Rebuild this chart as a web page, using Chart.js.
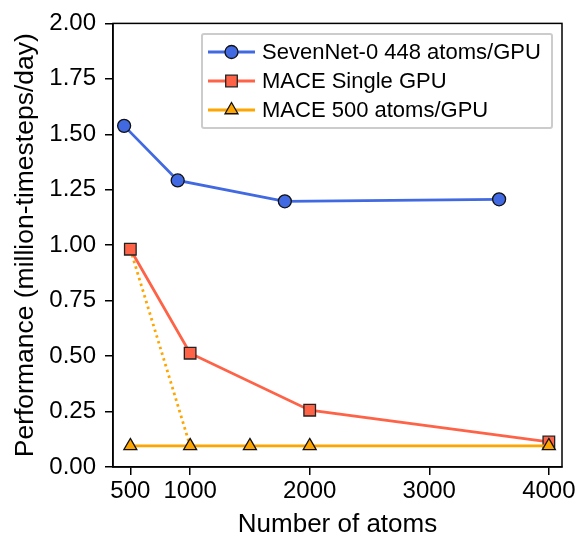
<!DOCTYPE html>
<html>
<head>
<meta charset="utf-8">
<script src="https://cdn.jsdelivr.net/npm/chart.js@4"></script>
<style>
  html, body { margin: 0; padding: 0; background: #fff; }
  #wrap { width: 582px; height: 538px; }
</style>
</head>
<body>
<div id="wrap"><canvas id="chart" width="582" height="538"></canvas></div>
<script>
// data
const sevenNetAtoms = [448, 896, 1792, 3584];
const sevenNetPerf = [1.538, 1.292, 1.198, 1.207];

const maceSingleAtoms = [500, 1000, 2000, 4000];
const maceSinglePerf = [0.982, 0.513, 0.256, 0.113];

const mace500Atoms = [500, 1000, 1500, 2000, 4000];
const mace500Perf = [0.095, 0.095, 0.095, 0.095, 0.095];

// dotted link between single-GPU start and the 1000-atom point
const linkAtoms = [500, 1000];
const linkPerf = [0.982, 0.095];

const xTicks = [500, 1000, 2000, 3000, 4000];
const yTicks = [0, 0.25, 0.5, 0.75, 1, 1.25, 1.5, 1.75, 2];

const seriesLabels = ["SevenNet-0 448 atoms/GPU", "MACE Single GPU", "MACE 500 atoms/GPU"];

const FONT = "'Liberation Sans', Arial, sans-serif";
const toPts = (xs, ys) => xs.map((x, i) => ({ x: x, y: ys[i] }));

// box around the plot + legend drawn inside the axes
const framePlugin = {
  id: 'frame',
  afterDatasetsDraw(chart) {
    const { ctx, chartArea: a } = chart;
    ctx.save();
    ctx.strokeStyle = '#000';
    ctx.lineWidth = 1.5;
    ctx.strokeRect(a.left, a.top, a.right - a.left, a.bottom - a.top);
    ctx.restore();
  },
  afterDraw(chart) {
    const { ctx } = chart;
    const box = { x: 202, y: 34, w: 350, h: 94 };
    ctx.save();
    ctx.fillStyle = 'rgba(255,255,255,0.85)';
    ctx.strokeStyle = '#cccccc';
    ctx.lineWidth = 2;
    ctx.beginPath();
    ctx.roundRect(box.x, box.y, box.w, box.h, 2);
    ctx.fill();
    ctx.stroke();

    ctx.font = '22px ' + FONT;
    ctx.textBaseline = 'middle';
    const rows = [52, 81, 110];
    seriesLabels.forEach((label, i) => {
      const ds = chart.data.datasets[i];
      const y = rows[i];
      ctx.strokeStyle = ds.borderColor;
      ctx.lineWidth = ds.borderWidth;
      ctx.setLineDash([]);
      ctx.beginPath();
      ctx.moveTo(208, y);
      ctx.lineTo(255, y);
      ctx.stroke();
      ctx.fillStyle = ds.pointBackgroundColor;
      ctx.strokeStyle = ds.pointBorderColor;
      ctx.lineWidth = ds.pointBorderWidth;
      Chart.helpers.drawPoint(ctx, {
        pointStyle: ds.pointStyle, radius: ds.pointRadius, rotation: 0, borderWidth: ds.pointBorderWidth
      }, 231.5, y);
      ctx.fillStyle = '#000';
      ctx.fillText(label, 262, y + 1);
    });
    ctx.restore();
  }
};

new Chart(document.getElementById('chart'), {
  type: 'line',
  data: {
    datasets: [
      {
        label: seriesLabels[0],
        data: toPts(sevenNetAtoms, sevenNetPerf),
        borderColor: '#4169e1',
        borderWidth: 2.8,
        pointStyle: 'circle',
        pointRadius: 6.5,
        pointBackgroundColor: '#4169e1',
        pointBorderColor: '#111',
        pointBorderWidth: 1.3,
        order: 1
      },
      {
        label: seriesLabels[1],
        data: toPts(maceSingleAtoms, maceSinglePerf),
        borderColor: '#ff6347',
        borderWidth: 2.8,
        pointStyle: 'rect',
        pointRadius: 8.2,
        pointBackgroundColor: '#ff6347',
        pointBorderColor: '#222',
        pointBorderWidth: 1.3,
        order: 3
      },
      {
        label: seriesLabels[2],
        data: toPts(mace500Atoms, mace500Perf),
        borderColor: '#ffa500',
        borderWidth: 2.8,
        pointStyle: 'triangle',
        pointRadius: 7.5,
        pointBackgroundColor: '#ffa500',
        pointBorderColor: '#111',
        pointBorderWidth: 1.3,
        order: 2
      },
      {
        label: 'link',
        data: toPts(linkAtoms, linkPerf),
        borderColor: '#ffa500',
        borderWidth: 2.8,
        borderDash: [2.5, 3.5],
        pointRadius: 0,
        order: 4
      }
    ]
  },
  options: {
    responsive: false,
    animation: false,
    layout: { padding: { top: 23, right: 20, left: 0, bottom: 0 } },
    plugins: {
      legend: { display: false },
      tooltip: { enabled: false }
    },
    scales: {
      x: {
        type: 'linear',
        min: 355,
        max: 4110,
        afterFit: (s) => { s.height = 71; },
        afterBuildTicks: (s) => { s.ticks = xTicks.map(v => ({ value: v })); },
        grid: { display: true, drawOnChartArea: false, drawTicks: true, tickLength: 8, color: '#000', lineWidth: 1.5 },
        border: { display: true, color: '#000', width: 1.5 },
        ticks: { color: '#000', font: { family: FONT, size: 24 }, padding: 2, maxRotation: 0, callback: (v) => String(v) },
        title: { display: true, text: 'Number of atoms', color: '#000', font: { family: FONT, size: 26, lineHeight: 1 }, padding: { top: 0, bottom: 0 } }
      },
      y: {
        min: 0,
        max: 2,
        afterFit: (s) => { s.width = 113; },
        afterBuildTicks: (s) => { s.ticks = yTicks.map(v => ({ value: v })); },
        grid: { display: true, drawOnChartArea: false, drawTicks: true, tickLength: 8, color: '#000', lineWidth: 1.5 },
        border: { display: true, color: '#000', width: 1.5 },
        ticks: { color: '#000', font: { family: FONT, size: 24 }, padding: 9, callback: (v) => v.toFixed(2) },
        title: { display: true, text: 'Performance (million-timesteps/day)', color: '#000', font: { family: FONT, size: 26.5, lineHeight: 1 }, padding: { top: 12, bottom: 0 } }
      }
    }
  },
  plugins: [framePlugin]
});
</script>
</body>
</html>
